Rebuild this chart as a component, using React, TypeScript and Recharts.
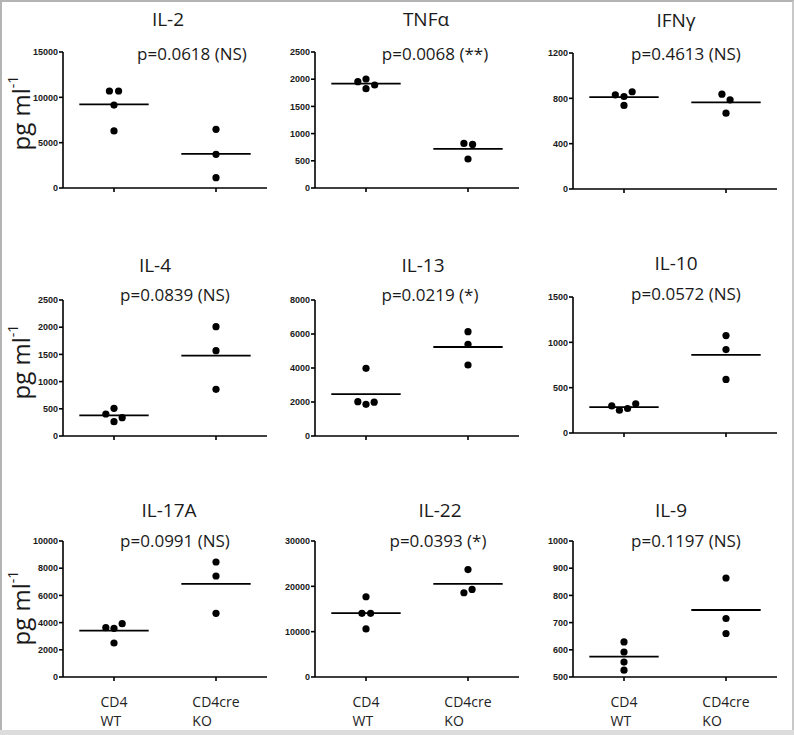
import React from 'react';
import { ScatterChart, Scatter, XAxis, YAxis, ReferenceLine } from 'recharts';

// panel order: row by row
const CYTOKINES = ['IL-2', 'TNFα', 'IFNγ', 'IL-4', 'IL-13', 'IL-10', 'IL-17A', 'IL-22', 'IL-9'];
const P_VALUES = [
  'p=0.0618 (NS)', 'p=0.0068 (**)', 'p=0.4613 (NS)',
  'p=0.0839 (NS)', 'p=0.0219 (*)', 'p=0.0572 (NS)',
  'p=0.0991 (NS)', 'p=0.0393 (*)', 'p=0.1197 (NS)',
];
const GROUPS = [['CD4', 'WT'], ['CD4cre', 'KO']];

const WT_VALUES = [
  [10700, 10700, 9150, 6300],
  [1954, 2004, 1825, 1893],
  [831, 816, 737, 858],
  [404, 509, 263, 337],
  [2020, 3980, 1863, 1990],
  [299, 251, 270, 322],
  [3627, 3578, 3922, 2500],
  [17700, 14045, 14045, 10600],
  [629, 592, 555, 525],
];
// horizontal spread of the dots (in category units)
const WT_SPREAD = [
  [-0.045, 0.045, 0, 0],
  [-0.08, 0, 0, 0.085],
  [-0.085, 0, 0, 0.08],
  [-0.08, 0, 0, 0.08],
  [-0.08, 0, 0, 0.08],
  [-0.12, -0.045, 0.035, 0.115],
  [-0.08, 0, 0.08, 0],
  [0, -0.04, 0.045, 0],
  [0, 0, 0, 0],
];
const KO_VALUES = [
  [6470, 3710, 1140],
  [820, 801, 533],
  [837, 787, 669],
  [2010, 1569, 858],
  [6137, 5392, 4176],
  [1075, 920, 591],
  [8456, 7426, 4681],
  [23700, 18590, 19312],
  [864, 715, 660],
];
const KO_SPREAD = [
  [0, 0, 0],
  [-0.04, 0.045, 0],
  [-0.04, 0.04, 0],
  [0, 0, 0],
  [0, 0, 0],
  [0, 0, 0],
  [0, 0, 0],
  [0, -0.04, 0.04],
  [0, 0, 0],
];
const Y_TICKS = [
  [0, 5000, 10000, 15000],
  [0, 500, 1000, 1500, 2000, 2500],
  [0, 400, 800, 1200],
  [0, 500, 1000, 1500, 2000, 2500],
  [0, 2000, 4000, 6000, 8000],
  [0, 500, 1000, 1500],
  [0, 2000, 4000, 6000, 8000, 10000],
  [0, 10000, 20000, 30000],
  [500, 600, 700, 800, 900, 1000],
];

// layout (page pixels)
const COL_X = [63, 315, 573];
const PLOT_TOP = [52, 52, 53, 300, 300, 297, 541, 541, 541];
const TITLE_POS = [[168, 19], [426, 19], [676, 20], [155, 265], [423, 265], [676, 263], [169, 510], [440, 510], [671, 510]];
const P_POS = [[192, 53], [435, 53], [686, 53], [175, 294], [430, 294], [686, 293], [175, 540], [438, 540], [686, 540]];
const YLABEL_Y = [113, 362, 608];

const PLOT_W = 204;
const PLOT_H = 136;
const AXIS_W = 60;
const X_AXIS_H = 62;
const SANS = '"Open Sans", "Noto Sans", sans-serif';
const TICK_FONT = '"Liberation Sans", Arial, sans-serif';

const mean = (a: number[]) => a.reduce((s, v) => s + v, 0) / a.length;

let measureCtx: CanvasRenderingContext2D | null = null;
function textWidth(s: string, font: string) {
  if (!measureCtx) measureCtx = document.createElement('canvas').getContext('2d');
  if (!measureCtx) return s.length * 8;
  measureCtx.font = font;
  return measureCtx.measureText(s).width;
}

const Dot = (props: any) => <circle cx={props.cx} cy={props.cy} r={3.6} fill="#000" />;

const EmptyTick = () => <g />;

const GroupTick = (props: any) => {
  const { x, y, payload } = props;
  const lines = GROUPS[Math.round(payload.value) - 1];
  if (!lines) return <g />;
  const w = Math.max(...lines.map((l) => textWidth(l, `14px ${SANS}`)));
  const left = x - w / 2;
  return (
    <text x={left} y={y} fontFamily={SANS} fontSize={14} fill="#222" textAnchor="start">
      {lines.map((l, i) => (
        <tspan key={i} x={left} dy={i === 0 ? 24 : 19}>
          {l}
        </tspan>
      ))}
    </text>
  );
};

function Panel({ i }: { i: number }) {
  const col = i % 3;
  const row = Math.floor(i / 3);
  const top = PLOT_TOP[i];
  const ticks = Y_TICKS[i];
  const wt = WT_VALUES[i].map((v, k) => ({ x: 1 + WT_SPREAD[i][k], y: v }));
  const ko = KO_VALUES[i].map((v, k) => ({ x: 2 + KO_SPREAD[i][k], y: v }));
  const wtMean = mean(WT_VALUES[i]);
  const koMean = mean(KO_VALUES[i]);
  const axisStroke = { stroke: '#000', strokeWidth: 1.6 };

  return (
    <div style={{ position: 'absolute', left: COL_X[col] - AXIS_W, top: top - 10 }}>
      <ScatterChart
        width={AXIS_W + PLOT_W + 8}
        height={10 + PLOT_H + X_AXIS_H}
        margin={{ top: 10, right: 8, bottom: 0, left: 0 }}
      >
        <XAxis
          type="number"
          dataKey="x"
          domain={[0.5, 2.5]}
          ticks={[1, 2]}
          interval={0}
          allowDataOverflow
          height={X_AXIS_H}
          tickSize={4}
          axisLine={axisStroke}
          tickLine={axisStroke}
          tick={row === 2 ? GroupTick : EmptyTick}
        />
        <YAxis
          type="number"
          dataKey="y"
          domain={[ticks[0], ticks[ticks.length - 1]]}
          ticks={ticks}
          interval={0}
          allowDataOverflow
          width={AXIS_W}
          tickSize={4}
          tickMargin={1}
          axisLine={axisStroke}
          tickLine={axisStroke}
          tick={{ fontSize: 9, fontWeight: 700, fill: '#1a1a1a', fontFamily: TICK_FONT }}
        />
        <ReferenceLine
          segment={[{ x: 0.66, y: wtMean }, { x: 1.34, y: wtMean }]}
          stroke="#000"
          strokeWidth={1.8}
        />
        <ReferenceLine
          segment={[{ x: 1.66, y: koMean }, { x: 2.34, y: koMean }]}
          stroke="#000"
          strokeWidth={1.8}
        />
        <Scatter data={wt} shape={Dot} isAnimationActive={false} />
        <Scatter data={ko} shape={Dot} isAnimationActive={false} />
      </ScatterChart>
    </div>
  );
}

const centered = (x: number, y: number): React.CSSProperties => ({
  position: 'absolute',
  left: x,
  top: y,
  transform: 'translate(-50%, -50%)',
  whiteSpace: 'nowrap',
  lineHeight: 1,
  fontFamily: SANS,
  color: '#1a1a1a',
});

export default function App() {
  return (
    <div style={{ position: 'absolute', left: 0, top: 0, width: 794, height: 735, background: '#fff', overflow: 'hidden' }}>
      <div
        style={{
          position: 'absolute', left: 0, top: 0, width: 794, height: 730, boxSizing: 'border-box',
          borderLeft: '2px solid #b4b4b4', borderTop: '2px solid #b4b4b4', borderRight: '2px solid #c8c8c8',
        }}
      />
      <div style={{ position: 'absolute', left: 0, top: 730, width: 794, height: 5, background: '#dcdcdc' }} />

      {CYTOKINES.map((_, i) => (
        <Panel key={i} i={i} />
      ))}

      {CYTOKINES.map((name, i) => (
        <div key={'t' + i} style={{ ...centered(TITLE_POS[i][0], TITLE_POS[i][1]), fontSize: 19 }}>
          {name}
        </div>
      ))}
      {P_VALUES.map((p, i) => (
        <div key={'p' + i} style={{ ...centered(P_POS[i][0], P_POS[i][1]), fontSize: 17 }}>
          {p}
        </div>
      ))}
      {YLABEL_Y.map((y, r) => (
        <div key={'y' + r} style={{ ...centered(21, y), transform: 'translate(-50%, -50%) rotate(-90deg)', fontSize: 24 }}>
          pg ml<sup style={{ fontSize: 14, verticalAlign: 'top', position: 'relative', top: -3 }}>-1</sup>
        </div>
      ))}
    </div>
  );
}
